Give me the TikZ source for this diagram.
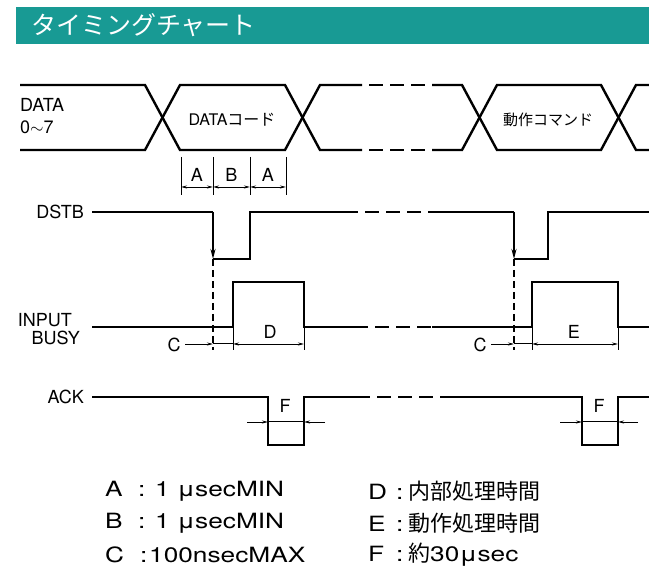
\documentclass[tikz,border=0pt]{standalone}
\usepackage{fontspec}
\setmainfont{TeX Gyre Heros}
\newfontfamily\jp{Noto Sans CJK JP}
\newfontfamily\wide[FakeStretch=1.25]{TeX Gyre Heros}
\usetikzlibrary{arrows.meta}
\definecolor{headteal}{RGB}{24,154,148}

\begin{document}
\begin{tikzpicture}[
    x=1pt, y=-1pt,
    wave/.style={line width=2.4pt, line join=miter},
    brk/.style={wave, dash pattern=on 14pt off 7pt, dash phase=14pt},
    guide/.style={line width=1.6pt, dash pattern=on 7pt off 4pt},
    tickline/.style={line width=1pt},
    dimline/.style={line width=0.9pt,
        {Stealth[length=6pt,width=3pt]}-{Stealth[length=6pt,width=3pt]}},
    pinline/.style={line width=0.9pt, -{Stealth[length=6pt,width=3pt]}},
    fallarrow/.style={wave, -{Stealth[length=10pt,width=5pt]}},
    sig/.style={font=\fontsize{18}{18}\selectfont, inner sep=0pt},
    lbl/.style={font=\fontsize{18}{18}\selectfont, inner sep=0pt},
    keytext/.style={font=\wide\fontsize{21}{21}\selectfont, inner sep=0pt, anchor=west}
]
\useasboundingbox (0,0) rectangle (649,580);

% title bar
\fill[headteal] (16,7) rectangle (649,44);
\node[anchor=west, text=white, inner sep=0pt, font=\jp\fontsize{25}{25}\selectfont]
    (title) at (31,25.5) {タイミングチャート};

% DATA 0~7
\node[sig, anchor=west] (data) at (20,105) {DATA};
\node[sig, anchor=west] (data07) at (20,127) {0$\sim$7};
\draw[wave] (20,85) -- (145,85) -- (180,150) -- (285,150) -- (320,85) -- (362,85);
\draw[wave] (20,150) -- (145,150) -- (180,85) -- (285,85) -- (320,150) -- (362,150);
\draw[brk] (362,85) -- (432,85);
\draw[brk] (362,150) -- (432,150);
\draw[wave] (432,85) -- (462,85) -- (497,150) -- (601,150) -- (636,85) -- (649,85);
\draw[wave] (432,150) -- (462,150) -- (497,85) -- (601,85) -- (636,150) -- (649,150);
\node[inner sep=0pt, font=\fontsize{16}{16}\selectfont] (code) at (232,120)
    {DATA{\jp コード}};
\node[inner sep=0pt, font=\jp\fontsize{15}{15}\selectfont] (cmd) at (548,120)
    {動作コマンド};

% A B A
\draw[tickline] (181,157) -- (181,195);
\draw[tickline] (213,157) -- (213,195);
\draw[tickline] (250,157) -- (250,195);
\draw[tickline] (286,157) -- (286,195);
\draw[dimline] (181,187) -- (213,187);
\draw[dimline] (213,187) -- (250,187);
\draw[dimline] (250,187) -- (286,187);
\node[lbl] (a1) at (197,175) {A};
\node[lbl] (b) at (231.5,175) {B};
\node[lbl] (a2) at (268,175) {A};

% DSTB
\node[sig, anchor=east] (dstb) at (84,212) {DSTB};
\draw[wave] (92,212) -- (213,212);
\draw[fallarrow] (213,212) -- (213,259);
\draw[wave] (213,259) -- (250,259) -- (250,212) -- (358,212);
\draw[brk] (358,212) -- (436,212);
\draw[wave] (436,212) -- (514,212);
\draw[fallarrow] (514,212) -- (514,259);
\draw[wave] (514,259) -- (548,259) -- (548,212) -- (649,212);
\draw[guide] (213,259) -- (213,350);
\draw[guide] (514,259) -- (514,350);

% INPUT BUSY
\node[sig, anchor=east] (input) at (72,320) {INPUT};
\node[sig, anchor=east] (busy) at (80,338) {BUSY};
\draw[wave] (92,327) -- (233,327) -- (233,282) -- (304,282) -- (304,327) -- (368,327);
\draw[brk] (368,327) -- (432,327);
\draw[wave] (432,327) -- (532,327) -- (532,282) -- (618,282) -- (618,327) -- (649,327);
\draw[tickline] (233,327) -- (233,350);
\draw[tickline] (304,327) -- (304,350);
\draw[tickline] (532,327) -- (532,350);
\draw[tickline] (618,327) -- (618,350);
\node[lbl] (c1) at (174,345) {C};
\draw[pinline] (185,344) -- (213,344);
\draw[tickline] (213,344) -- (233,344);
\draw[dimline] (233,344) -- (304,344);
\node[lbl] (d) at (270,332) {D};
\node[lbl] (c2) at (480,345) {C};
\draw[pinline] (491,344) -- (514,344);
\draw[tickline] (514,344) -- (532,344);
\draw[dimline] (532,344) -- (618,344);
\node[lbl] (e) at (574,332) {E};

% ACK
\node[sig, anchor=east] (ack) at (84,397) {ACK};
\draw[wave] (92,397) -- (268,397) -- (268,445) -- (304,445) -- (304,397) -- (370,397);
\draw[brk] (370,397) -- (446,397);
\draw[wave] (446,397) -- (582,397) -- (582,445) -- (618,445) -- (618,397) -- (649,397);
\draw[tickline] (268,422) -- (304,422);
\draw[pinline] (247,422) -- (268,422);
\draw[pinline] (325,422) -- (304,422);
\node[lbl] (f1) at (285,406) {F};
\draw[tickline] (582,422) -- (618,422);
\draw[pinline] (560,422) -- (582,422);
\draw[pinline] (638,422) -- (618,422);
\node[lbl] (f2) at (599,406) {F};

% legend
\node[keytext] (keya) at (105,491) {\makebox[33pt][l]{A}\makebox[17pt][l]{:}1 μsecMIN};
\node[keytext] (keyb) at (105,523) {\makebox[33pt][l]{B}\makebox[17pt][l]{:}1 μsecMIN};
\node[keytext] (keyc) at (105,555) {\makebox[35pt][l]{C}\makebox[9pt][l]{:}100nsecMAX};
\node[keytext] (keyd) at (368,491)
    {\makebox[28pt][l]{D}\makebox[12pt][l]{:}{\jp\fontsize{22}{22}\selectfont 内部処理時間}};
\node[keytext] (keye) at (368,523)
    {\makebox[28pt][l]{E}\makebox[12pt][l]{:}{\jp\fontsize{22}{22}\selectfont 動作処理時間}};
\node[keytext] (keyf) at (368,555)
    {\makebox[28pt][l]{F}\makebox[12pt][l]{:}{\jp\fontsize{22}{22}\selectfont 約}30μsec};
\end{tikzpicture}
\end{document}
